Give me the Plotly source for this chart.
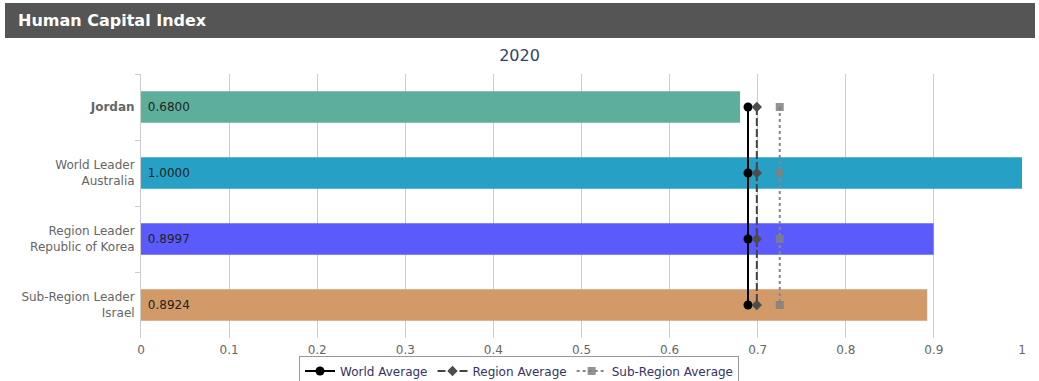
import plotly.graph_objects as go

categories = ["<b>Jordan</b>", "World Leader<br>Australia", "Region Leader<br>Republic of Korea", "Sub-Region Leader<br>Israel"]
values = [0.6800, 1.0000, 0.8997, 0.8924]
bar_colors = ["#5DAF9C", "#27A0C6", "#5B5BFB", "#D29A68"]
world_avg = [0.689, 0.689, 0.689, 0.689]
region_avg = [0.699, 0.699, 0.699, 0.699]
subregion_avg = [0.725, 0.725, 0.725, 0.725]
x_ticks = [0, 0.1, 0.2, 0.3, 0.4, 0.5, 0.6, 0.7, 0.8, 0.9, 1]
x_tick_labels = ["0", "0.1", "0.2", "0.3", "0.4", "0.5", "0.6", "0.7", "0.8", "0.9", "1"]

FONT = "DejaVu Sans"

fig = go.Figure()
fig.add_trace(go.Bar(
    x=values, y=categories, orientation="h",
    marker=dict(color=bar_colors, line=dict(width=0)),
    width=0.48,
    text=["\u00a0" + f"{v:.4f}" for v in values],
    textposition="inside", insidetextanchor="start",
    textfont=dict(family=FONT, size=12, color="#222222"),
    showlegend=False, hoverinfo="skip",
))
fig.add_trace(go.Scatter(
    x=world_avg, y=categories, mode="lines+markers", name="World Average",
    line=dict(color="black", width=2),
    marker=dict(symbol="circle", size=9, color="black"),
))
fig.add_trace(go.Scatter(
    x=region_avg, y=categories, mode="lines+markers", name="Region Average",
    line=dict(color="#444444", width=2, dash="8px,3px"),
    marker=dict(symbol="diamond", size=8, color="#4d4d4d"),
))
fig.add_trace(go.Scatter(
    x=subregion_avg, y=categories, mode="lines+markers", name="Sub-Region Average",
    line=dict(color="#888888", width=2, dash="dot"),
    marker=dict(symbol="square", size=8, color="rgba(128,128,128,0.85)"),
))

# header bar
fig.add_shape(type="rect", xref="paper", yref="paper",
              x0=(5 - 141) / 881, x1=(1035 - 141) / 881,
              y0=(338 - 38) / 264, y1=(338 - 3) / 264,
              fillcolor="#555555", line=dict(width=0), layer="below")
fig.add_annotation(xref="paper", yref="paper",
                   x=(16 - 141) / 881, y=(338 - 20.5) / 264,
                   xanchor="left", yanchor="middle", showarrow=False,
                   text="<b>Human Capital Index</b>",
                   font=dict(family=FONT, size=16, color="white"))

fig.update_layout(
    width=1039, height=381,
    margin=dict(l=141, r=17, t=74, b=43, autoexpand=False),
    paper_bgcolor="white", plot_bgcolor="white",
    font=dict(family=FONT, size=11, color="#666666"),
    title=dict(text="2020", x=0.5, xref="container", y=1 - 55 / 381, yanchor="middle",
               font=dict(family=FONT, size=16, color="#334466")),
    bargap=0.5,
    xaxis=dict(range=[0, 1], tickvals=x_ticks, ticktext=x_tick_labels,
               showgrid=True, gridcolor="#cccccc", gridwidth=1,
               ticks="", ticklabelstandoff=3,
               zeroline=False, showline=False, automargin=False,
               tickfont=dict(family=FONT, size=12, color="#666666")),
    yaxis=dict(autorange="reversed", showgrid=False, zeroline=False,
               showline=True, linecolor="#cccccc", linewidth=1, automargin=False,
               ticks="outside", tickson="boundaries", ticklen=5, tickcolor="#cccccc",
               ticklabelstandoff=3,
               tickfont=dict(family=FONT, size=12, color="#666666")),
    legend=dict(orientation="h", xref="paper", x=(519 - 141) / 881, xanchor="center",
                yref="paper", y=(338 - 371) / 264, yanchor="middle",
                bordercolor="#999999", borderwidth=1, itemwidth=30,
                font=dict(family=FONT, size=12, color="#333366")),
)

fig.write_html("out.html", post_script="document.body.style.margin='0';",
               config={"displayModeBar": False})
